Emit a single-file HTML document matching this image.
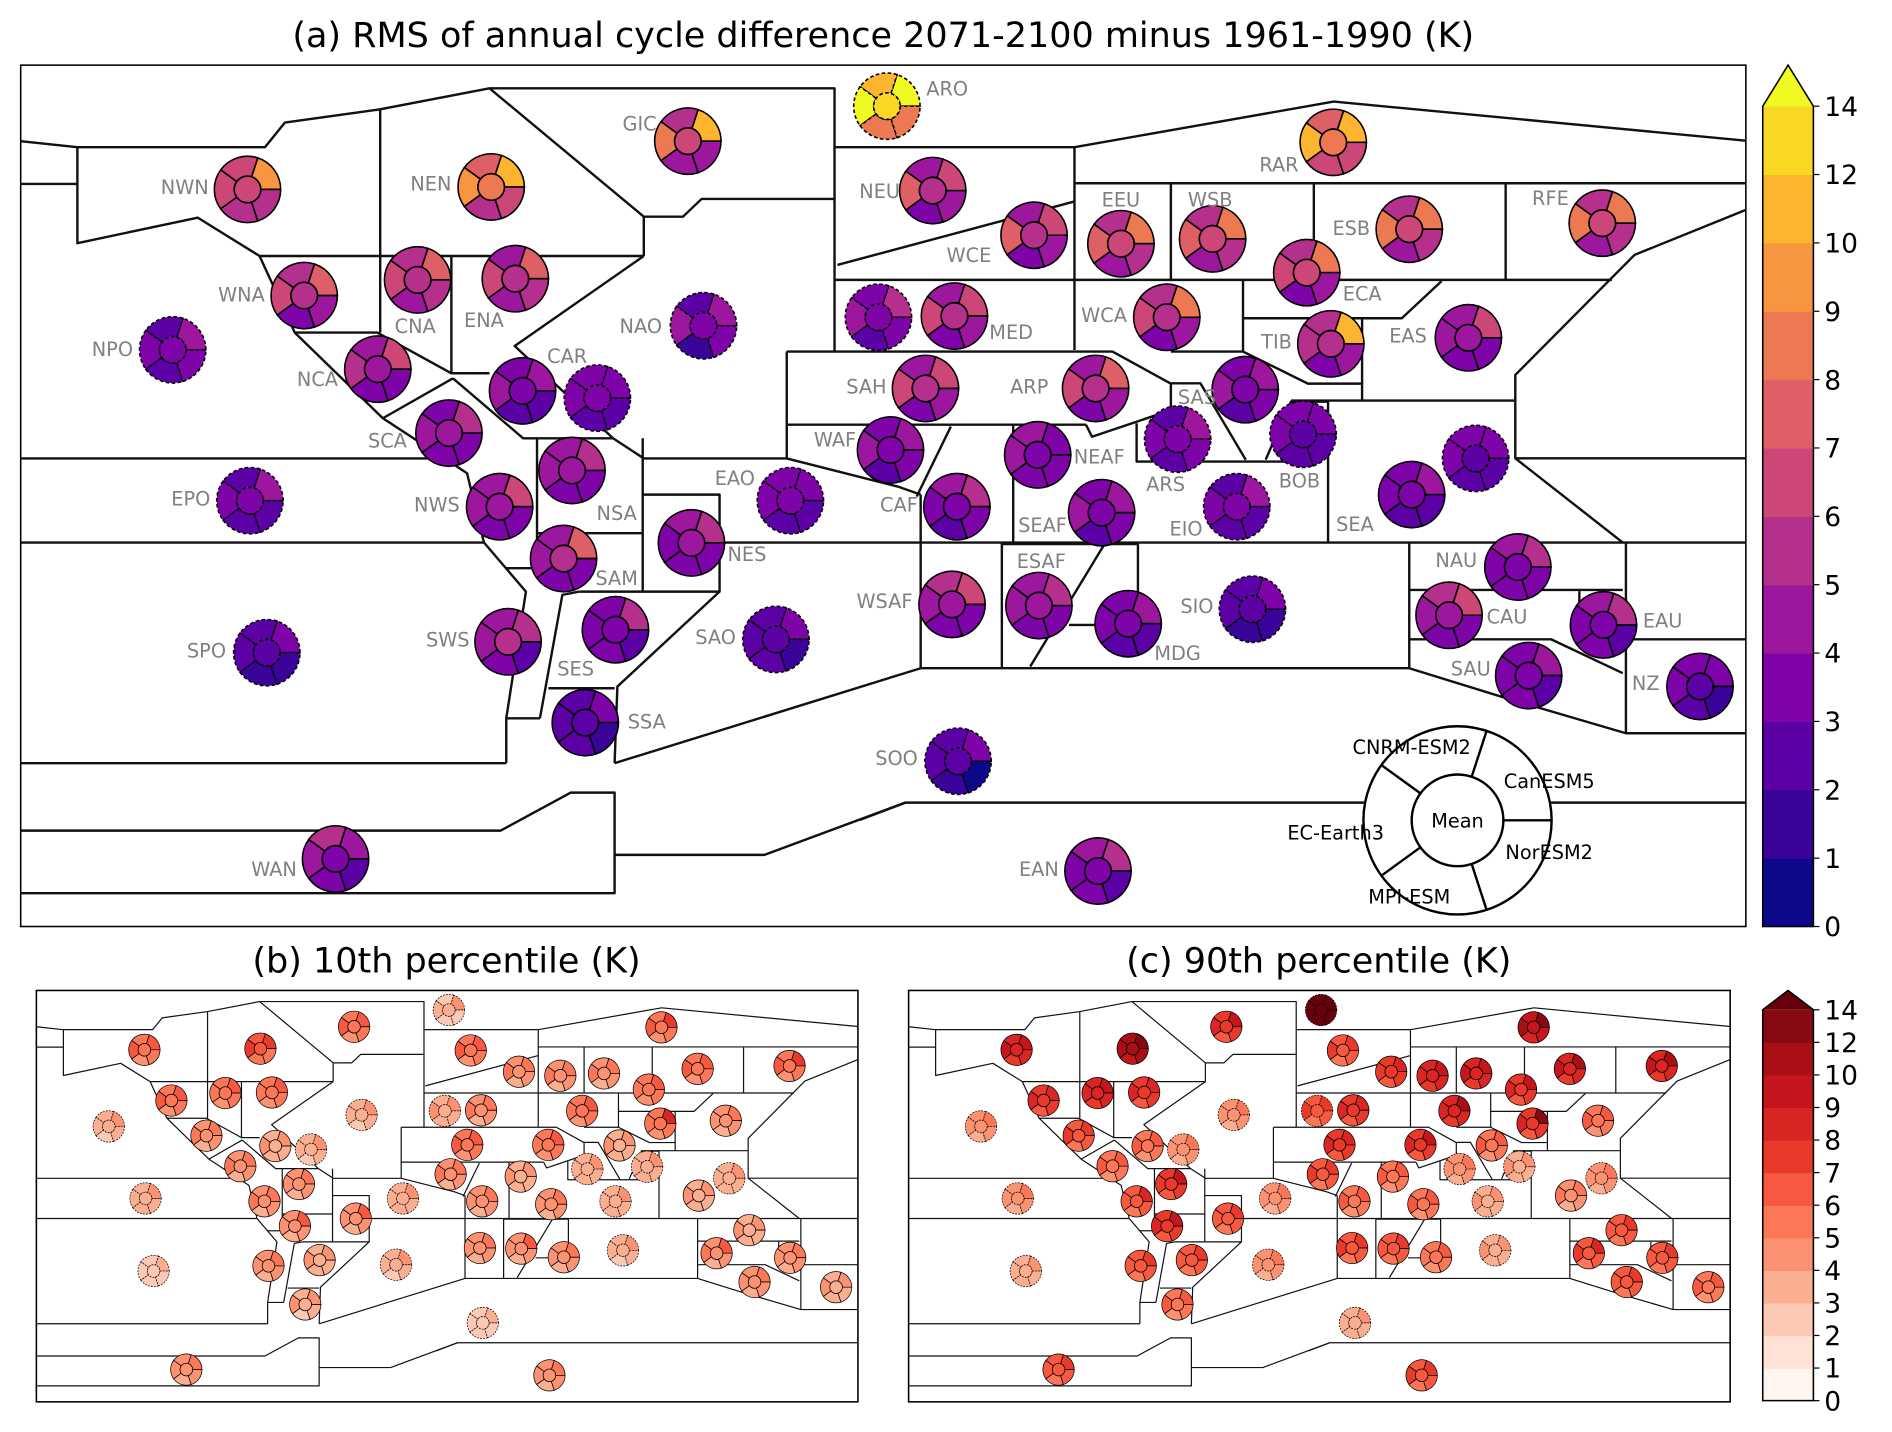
<!DOCTYPE html>
<html><head><meta charset="utf-8"><style>
html,body{margin:0;padding:0;background:#fff;}
svg{display:block;font-family:"DejaVu Sans","Liberation Sans",sans-serif;}
</style></head><body>
<svg id="fig" width="1892" height="1432" viewBox="0 0 1568 1187" xmlns="http://www.w3.org/2000/svg">
<rect x="0" y="0" width="1568" height="1187" fill="#fff"/>
<text x="732" y="39" font-size="29" text-anchor="middle">(a) RMS of annual cycle difference 2071-2100 minus 1961-1990 (K)</text>
<text x="370" y="806" font-size="29" text-anchor="middle">(b) 10th percentile (K)</text>
<text x="1093" y="806" font-size="29" text-anchor="middle">(c) 90th percentile (K)</text>
<g id="pa"></g>
<g id="pb"></g>
<g id="pc"></g>
<g id="cba"></g>
<g id="cbc"></g>
</svg>
<script>
// ---- data ----
const regionNames = ["ARO","GIC","NWN","NEN","RAR","NEU","WCE","EEU","WSB","ESB","RFE","ECA","WNA","CNA","ENA","NAO","NPO","MSO","MED","WCA","TIB","EAS","NCA","CAR","CAR2","SAH","ARP","SAS","SCA","NSA","BOB","ARS","WAF","NEAF","SEA","SEA2","EPO","NWS","EAO","CAF","SEAF","EIO","NES","SAM","ESAF","NAU","WSAF","SWS","SES","SAO","SIO","CAU","EAU","MDG","SPO","SAU","NZ","SSA","SOO","WAN","EAN"];
const modelNames = ["Mean","CanESM5","CNRM-ESM2","EC-Earth3","MPI-ESM","NorESM2"];
const oceanRegions = ["ARO","NAO","NPO","MSO","CAR2","BOB","ARS","SEA2","EPO","EAO","EIO","SAO","SIO","SPO","SOO"];
const hiddenLabels = ["MSO","CAR2","SEA2"];
const rmsValues = [
[13,15,11,15,8.5,8.5],[6.5,11,5.5,8.5,4.5,4.5],[6.5,9.5,6.5,6.5,5.5,5.5],[8.5,11,7.5,9.5,5.5,6.5],[8.5,11,7.5,11,6.5,6.5],
[5.5,6.5,4.5,7.5,3.5,4.5],[5.5,6.5,4.5,7.5,3.5,4.5],[6.5,8.5,5.5,7.5,4.5,5.5],[6.5,8.5,5.5,7.5,4.5,5.5],[6.5,8.5,5.5,8.5,4.5,5.5],
[6.5,8.5,5.5,8.5,4.5,5.5],[6.5,8.5,5.5,6.5,3.5,4.5],[5.5,7.5,5.5,6.5,3.5,4.5],[5.5,7.5,5.5,6.5,4.5,5.5],[5.5,7.5,4.5,6.5,4.5,5.5],
[3.5,4.5,2.5,4.5,1.5,3.5],[3.5,4.5,2.5,3.5,2.5,3.5],[3.5,5.5,3.5,4.5,2.5,3.5],[5.5,6.5,4.5,6.5,3.5,4.5],[5.5,8.5,5.5,6.5,3.5,4.5],
[5.5,11,5.5,5.5,3.5,4.5],[4.5,6.5,4.5,4.5,3.5,3.5],[4.5,6.5,4.5,5.5,3.5,3.5],[3.5,4.5,3.5,4.5,2.5,2.5],[3.5,3.5,3.5,3.5,2.5,2.5],
[5.5,6.5,4.5,6.5,3.5,4.5],[5.5,7.5,4.5,6.5,3.5,4.5],[3.5,4.5,3.5,4.5,2.5,3.5],[4.5,5.5,3.5,4.5,3.5,3.5],[4.5,5.5,4.5,4.5,3.5,3.5],
[2.5,3.5,3.5,3.5,2.5,2.5],[3.5,4.5,2.5,3.5,2.5,3.5],[3.5,4.5,3.5,4.5,2.5,3.5],[3.5,3.5,4.5,4.5,3.5,3.5],[3.5,4.5,3.5,3.5,2.5,2.5],
[2.5,3.5,3.5,3.5,2.5,2.5],[3.5,4.5,2.5,3.5,2.5,2.5],[4.5,6.5,4.5,4.5,3.5,3.5],[3.5,3.5,3.5,3.5,2.5,2.5],[3.5,5.5,4.5,3.5,2.5,3.5],
[3.5,4.5,3.5,4.5,2.5,3.5],[3.5,4.5,2.5,3.5,2.5,2.5],[4.5,5.5,4.5,3.5,3.5,3.5],[5.5,7.5,4.5,4.5,3.5,3.5],[4.5,5.5,4.5,4.5,3.5,3.5],
[3.5,5.5,4.5,3.5,3.5,3.5],[4.5,6.5,5.5,4.5,3.5,3.5],[5.5,5.5,4.5,4.5,3.5,2.5],[3.5,5.5,3.5,3.5,3.5,2.5],[2.5,3.5,2.5,2.5,2.5,1.5],
[2.5,3.5,2.5,2.5,1.5,1.5],[4.5,6.5,5.5,4.5,3.5,3.5],[3.5,5.5,4.5,3.5,3.5,2.5],[3.5,4.5,3.5,3.5,2.5,2.5],[2.5,3.5,2.5,2.5,1.5,1.5],
[3.5,4.5,3.5,3.5,3.5,2.5],[2.5,3.5,3.5,3.5,2.5,1.5],[2.5,3.5,2.5,2.5,2.5,1.5],[2.5,3.5,2.5,2.5,1.5,0.5],[3.5,4.5,5.5,4.5,3.5,2.5],
[3.5,5.5,4.5,3.5,3.5,2.5]];
const p10Values = [
[3,4,2,3,2,2],[5.5,6.5,5,6,4,5],[5.5,6.5,5,6,4,5],[6.5,7.5,6,7,5,5],[5.5,7,5,6,4,5],
[5.5,6.5,5,6,4,5],[4.5,5.5,4,5,3,4],[4.5,5.5,4,5,3,4],[4.5,5.5,4,5,3,4],[5.5,6.5,5,6,4,5],
[5.5,7.5,5,6,4,5],[5.5,6.5,5,5,4,5],[5.5,6.5,5,6,4,5],[5.5,6.5,5,5,4,5],[5.5,6.5,5,5,4,5],
[3.5,4,3,3,2,3],[3.5,4,3,3,2,3],[3.5,4,3,4,3,3],[4.5,5.5,4,5,3,4],[5.5,6.5,5,5,4,5],
[5.5,8.5,5,5,4,5],[4.5,5.5,4,4,3,4],[4.5,5.5,4,5,3,4],[3.5,4,3,4,3,3],[3.5,4,3,3,2,3],
[5.5,6.5,5,6,4,5],[5.5,6.5,5,5,4,5],[3.5,4.5,3,4,3,3],[4.5,5.5,4,5,3,4],[4.5,5.5,4,4,3,4],
[3.5,4,3,3,3,3],[3.5,4,3,3,3,3],[4.5,5.5,4,5,3,4],[3.5,4.5,3,4,3,3],[3.5,4.5,3,4,3,3],
[3.5,4,3,3,3,3],[3.5,4,3,3,3,3],[4.5,5.5,4,5,3,4],[3.5,4,3,3,3,3],[4.5,5.5,4,4,3,4],
[4.5,5.5,4,4,3,4],[3.5,4,3,3,3,3],[4.5,6.5,4,4,3,4],[4.5,6.5,4,4,3,4],[4.5,6.5,4,4,3,4],
[3.5,4.5,3,4,3,3],[4.5,5.5,4,4,3,4],[4.5,5.5,4,4,3,4],[3.5,4.5,3,4,3,3],[3.5,4,3,3,2,3],
[3.5,4,3,3,2,3],[4.5,6,4,5,3,4],[4.5,5.5,4,4,3,4],[4.5,5.5,4,4,3,4],[2.5,3,2,2,2,2],
[4.5,5.5,4,4,3,4],[3.5,4.5,3,4,3,3],[3.5,4.5,3,4,2,3],[2.5,3,2,2,2,2],[4.5,5.5,4,4,3,4],
[4.5,5.5,4,4,3,4]];
const p90Values = [
[15,15,15,15,14,15],[7.5,9.5,7,8,6,7],[8.5,9.5,8,9,7,8],[11,13,10,11,9,10],[9.5,13,9,11,8,9],
[6.5,7.5,6,7,5,6],[7.5,8.5,7,7,6,7],[8.5,9.5,8,8,7,8],[8.5,9.5,8,9,7,8],[8.5,11,8,9,7,8],
[8.5,11,8,9,7,8],[7.5,9.5,7,8,6,7],[7.5,8.5,7,8,6,7],[8.5,9.5,8,8,7,8],[7.5,8.5,7,8,6,7],
[4.5,5.5,4,4,3,4],[4.5,5.5,4,4,3,4],[6.5,7.5,6,7,5,6],[7.5,8.5,7,8,6,7],[8.5,11,8,8,7,8],
[7.5,12,7,8,6,7],[5.5,6.5,5,6,4,5],[6.5,7.5,6,7,5,6],[5.5,6.5,5,6,4,5],[4.5,5.5,4,4,3,4],
[7.5,8.5,7,8,6,7],[7.5,9.5,7,8,6,7],[5.5,6.5,5,6,4,5],[5.5,6.5,5,6,4,5],[7.5,9.5,7,7,6,7],
[3.5,4.5,3,4,3,3],[4.5,5.5,4,4,3,4],[6.5,7.5,6,7,5,6],[5.5,6.5,5,6,4,5],[4.5,5.5,4,5,3,4],
[4.5,5.5,4,4,3,4],[4.5,5.5,4,4,3,4],[6.5,8.5,6,6,5,6],[4.5,5.5,4,4,3,4],[5.5,6.5,5,6,4,5],
[5.5,6.5,5,6,4,5],[3.5,4.5,3,4,3,3],[6.5,7.5,6,6,5,6],[7.5,9.5,7,8,6,7],[6.5,7.5,6,6,5,6],
[6.5,7.5,6,6,5,6],[6.5,7.5,6,7,5,6],[6.5,7.5,6,6,5,6],[6.5,7.5,6,6,5,6],[4.5,5.5,4,4,3,4],
[3.5,4.5,3,4,3,3],[6.5,8.5,6,7,5,6],[6.5,7.5,6,6,5,6],[5.5,6.5,5,5,4,5],[3.5,4.5,3,3,3,3],
[6.5,7.5,6,6,5,6],[5.5,6.5,5,6,4,5],[5.5,6.5,5,6,4,5],[3.5,4.5,3,3,3,3],[6.5,7.5,6,6,5,6],
[6.5,7.5,6,7,5,6]];
const levels = [0,1,2,3,4,5,6,7,8,9,10,12,14];
const tickLabels = ["0","1","2","3","4","5","6","7","8","9","10","12","14"];
const plasmaColors = ["#0d0887","#3a049a","#5c01a6","#7e03a8","#9c179e","#b52f8c","#cc4778","#de5f65","#ed7953","#f89540","#fdb42f","#f9d824","#f0f921"];
const redsColors = ["#fff5f0","#fee2d5","#fcc9b4","#fcae91","#fc9272","#fb7757","#f65940","#e9392b","#d92523","#c4161c","#a91016","#870a12","#67000d"];
const glyphPos = {ARO:[735,88,785,79],GIC:[570,117,530,108],NWN:[205,157,153,161],NEN:[407,155,357,158],RAR:[1105,118,1060,142],NEU:[773,158,729,164],WCE:[857,195,803,217],EEU:[929,202,929,171],WSB:[1005,198,1003,171],ESB:[1168,190,1120,195],RFE:[1328,185,1285,170],ECA:[1083,226,1129,249],WNA:[252,245,200,250],CNA:[346,232,344,276],ENA:[427,231,401,271],NAO:[583,270,531,276],NPO:[143,290,93,295],MSO:[728,263,0,0],MED:[791,262,838,281],WCA:[967,263,915,267],TIB:[1103,285,1058,289],EAS:[1217,280,1167,284],NCA:[313,306,263,320],CAR:[433,324,470,301],CAR2:[495,330,0,0],SAH:[767,322,718,326],ARP:[908,322,853,326],SAS:[1032,323,992,335],SCA:[372,359,321,371],NSA:[474,390,511,431],BOB:[1080,360,1077,404],ARS:[976,364,966,407],WAF:[738,373,692,370],NEAF:[860,377,911,384],SEA:[1170,410,1123,440],SEA2:[1223,380,0,0],EPO:[207,415,158,419],NWS:[414,420,362,424],EAO:[655,415,609,402],CAF:[793,420,745,424],SEAF:[913,425,864,441],EIO:[1025,420,983,444],NES:[573,450,619,465],SAM:[467,463,511,485],ESAF:[861,502,863,471],NAU:[1258,470,1207,470],WSAF:[789,501,733,504],SWS:[421,532,371,536],SES:[510,522,477,560],SAO:[643,530,593,534],SIO:[1038,505,992,508],CAU:[1201,510,1249,517],EAU:[1329,518,1378,520],MDG:[935,517,976,547],SPO:[221,541,171,545],SAU:[1267,560,1219,560],NZ:[1409,569,1364,572],SSA:[485,599,536,604],SOO:[794,631,743,634],WAN:[278,712,227,726],EAN:[910,722,861,726]};
const boxLines = [
[[17,117],[64,122],[219.5,122],[236,101.6],[315,90.6],[405.6,73.2],[691.6,73.2],[691.6,164.9],[581.4,164.9],[566,179.6],[533.5,179.6],[533.5,212.2]],
[[17,152.5],[64,152.5]],[[64,122],[64,201.6],[163.7,180.4],[215,212.2],[533.5,212.2]],
[[315,90.6],[315,275.7]],[[405.6,73.2],[533.5,179.6]],
[[691.6,122],[890.5,122],[1105.4,84.2],[1447,116.6]],[[890.5,122],[890.5,290.1]],[[890.5,151.9],[1447,151.9]],
[[691.6,164.9],[691.6,291.4]],[[694,219.6],[890.5,167]],[[1447,174],[1354.7,211.3],[1255.9,310.8],[1255.9,379.9],[1447,379.9]],
[[691.6,232],[1336,232]],[[970.4,151.9],[970.4,232]],[[1088.9,151.9],[1088.9,232]],[[1247.9,151.9],[1247.9,232]],
[[1030.2,232],[1030.2,263.8],[1161.8,263.8],[1194.8,233]],[[1030.2,263.8],[1030.2,291.4]],
[[970.4,291.4],[1030.2,291.4],[1084,318],[1128.9,318]],[[1128.9,263.8],[1128.9,332]],[[1070,332],[1255.9,332]],
[[652,291.4],[922,291.4],[970.4,318],[970.4,340],[905,362],[900,352]],[[652,291.4],[652,379.9]],[[652,352],[900,352]],
[[17,380],[368,380]],[[375.3,313.6],[433.5,363.3],[508,363.3],[533.5,380],[652,380],[744,403.3],[763,410]],
[[533.5,212.2],[426.5,286.8],[508,363.3]],[[374,212.2],[374,309.4],[405.6,309.4]],
[[215,212.2],[244.2,275.7],[312.6,275.7],[374,309.4]],
[[244.2,275.7],[317.2,346.7],[387,392.3],[401,449.7],[435.8,490.4],[419.5,595.4],[419.5,632.6]],
[[317.2,346.7],[375.3,313.6]],[[445,363.3],[445,449.7]],[[445,442],[532.6,442]],[[532.6,363.3],[532.6,490.4]],
[[532.6,410],[596.3,410],[596.3,490.4],[480,490.4]],[[596.3,490.4],[511.6,569.1],[509.3,632.6]],
[[454.4,570.5],[509.3,570.5]],[[447.4,595.4],[466,493.1],[480,490.4]],[[419.5,595.4],[447.4,595.4]],[[419.5,471],[445,471]],
[[17,449.7],[401,449.7]],[[596.3,449.7],[1447,449.7]],
[[17,632.6],[419.5,632.6]],[[509.3,632.6],[763,553.9],[1168,553.9],[1244,577.4],[1347.6,607.8],[1447,607.8]],
[[763,410],[763,553.9]],[[830.3,449.7],[830.3,553.9]],[[830.3,451],[943.1,451],[943.1,518],[886,518]],[[915,451.7],[853.8,552.5]],
[[839.7,352],[839.7,449.7]],[[788,353.6],[759.7,411.6]],
[[942,350.8],[942,382.6],[1070,382.6]],[[1032.5,381.2],[994.9,317.7],[970.4,317.7]],[[1049,381],[1070,332.9],[1100.7,332.9]],[[1100.7,332],[1100.7,449.7]],
[[1255.9,379.9],[1345,449.7]],
[[1168,449.7],[1168,553.9]],[[1168,489],[1345,489]],[[1347.6,449.7],[1347.6,607.8]],[[1347.6,529.9],[1447,529.9]],
[[1168,529.9],[1285.5,529.9],[1345,558]],[[1309,490],[1309,530]],
[[17,688.5],[414.9,688.5],[473,657],[509.3,657],[509.3,740.4],[17,740.4]],
[[509.3,708.6],[633.5,708.6],[750.3,665.3],[1447,665.3]],[[712.7,679.6],[750.3,665.3]]
];
// ---- drawing ----
const NS="http://www.w3.org/2000/svg";
function el(tag,attrs,parent){const e=document.createElementNS(NS,tag);for(const k in attrs)e.setAttribute(k,attrs[k]);if(parent)parent.appendChild(e);return e;}
function colorFor(v,cols){if(v>=levels[levels.length-1])return cols[cols.length-1];for(let i=0;i<levels.length-1;i++){if(v<levels[i+1])return cols[i];}return cols[cols.length-1];}
function wedge(cx,cy,r0,r1,a0,a1){const p=(r,a)=>[cx+r*Math.cos(a),cy-r*Math.sin(a)];const A=p(r1,a0),B=p(r1,a1),C=p(r0,a1),D=p(r0,a0);
return `M${A[0]},${A[1]} A${r1},${r1} 0 0 0 ${B[0]},${B[1]} L${C[0]},${C[1]} A${r0},${r0} 0 0 1 ${D[0]},${D[1]} Z`;}
function drawPanel(gid,frame,sx,sy,values,cols,rOut,sw,lw,withLabels){
  const g=document.getElementById(gid);
  const X=x=>frame[0]+(x-17)*sx, Y=y=>frame[1]+(y-54)*sy;
  const fr=el('rect',{x:frame[0],y:frame[1],width:frame[2]-frame[0],height:frame[3]-frame[1],fill:'#fff',stroke:'#000','stroke-width':1.3},g);
  
  
  boxLines.forEach((pl,i)=>{
    const l=el('polyline',{points:pl.map(p=>X(p[0]).toFixed(1)+','+Y(p[1]).toFixed(1)).join(' '),fill:'none',stroke:'#111','stroke-width':lw,'stroke-linejoin':'round'},g);
    
    
  });
  const rIn=rOut*0.4;
  regionNames.forEach((nm,i)=>{
    const pos=glyphPos[nm]; const v=values[i]; const cx=X(pos[0]), cy=Y(pos[1]);
    const dashed=oceanRegions.includes(nm);
    const gg=el('g',{},g);
    
    
    const dash=dashed?{'stroke-dasharray':(rOut>20?'3,2':'1.5,1')}:{};
    for(let k=0;k<5;k++){
      const a0=k*72*Math.PI/180, a1=(k+1)*72*Math.PI/180;
      const w=el('path',Object.assign({d:wedge(cx,cy,rIn,rOut,a0,a1),fill:colorFor(v[k+1],cols),stroke:'#000','stroke-width':sw},dash),gg);
      
      
    }
    const c=el('circle',Object.assign({cx:cx,cy:cy,r:rIn,fill:colorFor(v[0],cols),stroke:'#000','stroke-width':sw},dash),gg);
    
    
    if(withLabels && !hiddenLabels.includes(nm)){
      const t=el('text',{x:pos[2],y:pos[3],'font-size':16,fill:'#808080','text-anchor':'middle'},g);
      t.textContent=nm;
      
      
    }
  });
}
drawPanel('pa',[17,54,1447,768],1,1,rmsValues,plasmaColors,27.5,1.3,2,true);
drawPanel('pb',[30,821,711,1162],681/1430,341/714,p10Values,redsColors,13,0.6,1,false);
drawPanel('pc',[753,821,1434,1162],681/1430,341/714,p90Values,redsColors,13,0.6,1,false);
(function(){
  const g=document.getElementById('pa');
  const lg=el('g',{},g);
  
  
  const cx=1208,cy=680,r0=38,r1=78;
  el('circle',{cx:cx,cy:cy,r:r1+1,fill:'#fff',stroke:'none'},lg);
  el('circle',{cx:cx,cy:cy,r:r1,fill:'none',stroke:'#000','stroke-width':2},lg);
  el('circle',{cx:cx,cy:cy,r:r0,fill:'#fff',stroke:'#000','stroke-width':2},lg);
  for(let k=0;k<5;k++){const a=k*72*Math.PI/180;el('line',{x1:cx+r0*Math.cos(a),y1:cy-r0*Math.sin(a),x2:cx+r1*Math.cos(a),y2:cy-r1*Math.sin(a),stroke:'#000','stroke-width':2},lg);}
  const labs=[["Mean",1208,686],["CNRM-ESM2",1170,625],["CanESM5",1284,653],["NorESM2",1284,712],["MPI-ESM",1168,749],["EC-Earth3",1107,696]];
  labs.forEach(L=>{const t=el('text',{x:L[1],y:L[2],'font-size':16,'text-anchor':'middle',fill:'#000'},lg);t.textContent=L[0];
    
    });
})();
function drawColorbar(gid,x,yTop,yBot,apex,cols){
  const g=document.getElementById(gid); const w=42; const n=levels.length-1; const h=(yBot-yTop)/n;
  for(let i=0;i<n;i++){
    const r=el('rect',{x:x,y:yBot-(i+1)*h,width:w,height:h+0.5,fill:cols[i]},g);
    
    
  }
  const tri=el('polygon',{points:`${x},${yTop} ${x+w/2},${apex} ${x+w},${yTop}`,fill:cols[cols.length-1]},g);
  
  
  el('polygon',{points:`${x},${yBot} ${x},${yTop} ${x+w/2},${apex} ${x+w},${yTop} ${x+w},${yBot}`,fill:'none',stroke:'#000','stroke-width':1.3},g);
  for(let i=0;i<=n;i++){
    const y=yBot-i*h;
    el('line',{x1:x+w,y1:y,x2:x+w+5,y2:y,stroke:'#000','stroke-width':1},g);
    const t=el('text',{x:x+w+9,y:y+8,'font-size':22,fill:'#000'},g);
    t.textContent=tickLabels[i];
    
    
  }
}
drawColorbar('cba',1461,88,768,54,plasmaColors);
drawColorbar('cbc',1461,837,1161,821,redsColors);
</script>
</body></html>
